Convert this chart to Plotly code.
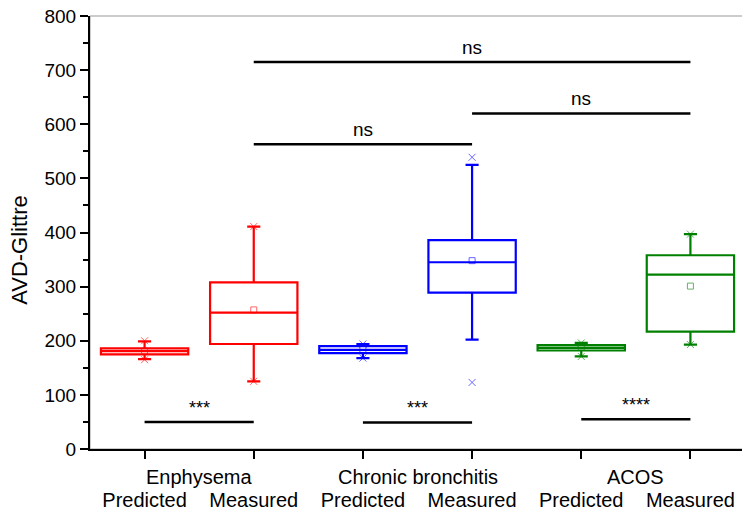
import plotly.graph_objects as go

# box stats
labels = ["Predicted", "Measured", "Predicted", "Measured", "Predicted", "Measured"]
groups = ["Enphysema", "Chronic bronchitis", "ACOS"]
colors = ["#FF0000", "#FF0000", "#0000FF", "#0000FF", "#008000", "#008000"]

q1 = [175, 194, 177, 289, 182, 217]
median = [181, 252, 183, 345, 187, 322]
q3 = [186, 308, 190, 386, 192, 358]
lower_whisker = [166, 125, 168, 202, 171, 193]
upper_whisker = [199, 411, 194, 525, 196, 397]
mean = [181, 257, 184, 348, 188, 301]
min_val = [165, 125, 168, 123, 171, 193]
max_val = [200, 411, 194, 539, 196, 397]

# significance brackets: from index, to index, height, label
sig_from = [0, 2, 4, 1, 3, 1]
sig_to = [1, 3, 5, 3, 5, 5]
sig_y = [50, 49, 55, 563, 620, 715]
sig_text = ["***", "***", "****", "ns", "ns", "ns"]

pos = list(range(len(labels)))

fig = go.Figure()

for i in pos:
    fig.add_trace(go.Box(
        x=[i], q1=[q1[i]], median=[median[i]], q3=[q3[i]],
        lowerfence=[lower_whisker[i]], upperfence=[upper_whisker[i]],
        width=0.8, whiskerwidth=0.15, boxpoints=False,
        line=dict(color=colors[i], width=2.2),
        fillcolor="rgba(0,0,0,0)", showlegend=False, hoverinfo="skip"))
    # mean square and min/max crosses
    fig.add_trace(go.Scatter(
        x=[i], y=[mean[i]], mode="markers",
        marker=dict(symbol="square-open", size=6, color=colors[i], line=dict(width=1)),
        opacity=0.6, showlegend=False))
    fig.add_trace(go.Scatter(
        x=[i, i], y=[min_val[i], max_val[i]], mode="markers",
        marker=dict(symbol="x-thin", size=7, line=dict(width=1, color=colors[i])),
        opacity=0.6, showlegend=False))

for a, b, h, t in zip(sig_from, sig_to, sig_y, sig_text):
    fig.add_trace(go.Scatter(x=[a, b], y=[h, h], mode="lines",
                             line=dict(color="black", width=2.5),
                             showlegend=False, hoverinfo="skip"))
    fig.add_annotation(x=(a + b) / 2, y=h, text=t, showarrow=False,
                       yanchor="bottom", yshift=2,
                       font=dict(size=19 if t == "ns" else 18, color="black"))

for g, name in enumerate(groups):
    fig.add_annotation(x=2 * g + 0.5, y=0, xref="x", yref="paper", text=name,
                       showarrow=False, yanchor="middle", yshift=-28,
                       font=dict(size=20, color="black"))

# y title sits a little below the axis middle in the original
fig.add_annotation(x=0, y=0.46, xref="paper", yref="paper", text="AVD-Glittre",
                   textangle=-90, showarrow=False, xanchor="center",
                   yanchor="middle", xshift=-70, font=dict(size=22, color="black"))

fig.add_shape(type="rect", xref="paper", yref="paper", x0=0, y0=0, x1=1, y1=1,
              line=dict(color="#999999", width=1), layer="below")

# page has an 8px body margin, so the figure is a bit smaller than the window
fig.update_layout(
    width=742, height=505,
    margin=dict(l=82, r=5, t=8, b=64),
    plot_bgcolor="white", paper_bgcolor="white",
    font=dict(family="Liberation Sans, Arial", color="black"),
    xaxis=dict(range=[-0.5, 5.5], tickvals=pos, ticktext=labels,
               showgrid=False, zeroline=False, showline=True,
               linecolor="black", linewidth=2, ticks="outside",
               ticklen=8, tickwidth=2, tickcolor="black", automargin=False,
               tickfont=dict(size=20), ticklabelstandoff=24),
    yaxis=dict(range=[0, 800], dtick=100, showgrid=False, zeroline=False,
               showline=True, linecolor="black", linewidth=2,
               ticks="outside", ticklen=8, tickwidth=2, tickcolor="black",
               tickfont=dict(size=19), automargin=False,
               ticklabeloverflow="allow",
               minor=dict(dtick=50, ticks="outside", ticklen=5, tickwidth=2,
                          tickcolor="black")),
)

fig.write_html("out.html")
